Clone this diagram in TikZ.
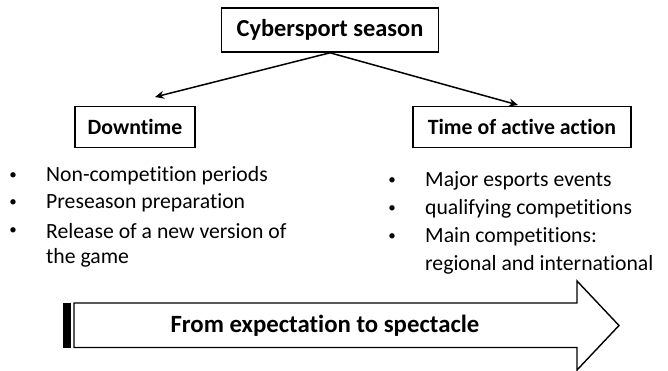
\documentclass[tikz,border=0pt]{standalone}
\usepackage{fontspec}
\setmainfont{Carlito}[Ligatures={NoCommon}]
\usetikzlibrary{arrows.meta}
\begin{document}
\begin{tikzpicture}[x=1pt,y=-1pt,
  titlebox/.style={draw,line width=1.6pt,inner sep=0pt,font=\fontsize{21.8}{26}\selectfont\bfseries},
  item/.style={anchor=west,inner sep=0pt,font=\fontsize{21.7}{26}\selectfont},
  bul/.style={inner sep=0pt,font=\fontsize{15}{18}\selectfont},
  conn/.style={line width=1.5pt,-{Stealth[length=9pt,width=8pt]}}]
\useasboundingbox (0,0) rectangle (668,371);
\node[titlebox,minimum width=217pt,minimum height=44pt,font=\fontsize{24.4}{28}\selectfont\bfseries] (top) at (330,30) {Cybersport season};
\node[titlebox,minimum width=120pt,minimum height=41pt] (down) at (135,127) {Downtime};
\node[titlebox,minimum width=218pt,minimum height=41pt] (act) at (522,127) {Time of active action};
\coordinate (d1) at (155,97);
\coordinate (a1) at (518,105);
\draw[conn] (top.south) -- (d1);
\draw[conn] (top.south) -- (a1);
% left list
\node[bul] (lb1) at (13,176) {•};
\node[bul] (lb2) at (13,203) {•};
\node[bul] (lb3) at (13,231) {•};
\node[item] (l1) at (46,176) {Non-competition periods};
\node[item] (l2) at (46,203) {Preseason preparation};
\node[item] (l3) at (46,231) {Release of a new version of};
\node[item] (l4) at (46,258) {the game};
% right list
\node[bul] (rb1) at (392,181) {•};
\node[bul] (rb2) at (392,209) {•};
\node[bul] (rb3) at (392,237) {•};
\node[item] (r1) at (425,181) {Major esports events};
\node[item] (r2) at (425,209) {qualifying competitions};
\node[item] (r3) at (425,237) {Main competitions:};
\node[item] (r4) at (425,265) {regional and international};
% big arrow
\draw[line width=1.4pt,line join=miter] (74,303) -- (577,303) -- (577,281) -- (619,325.5) -- (577,370) -- (577,347.5) -- (74,347.5) -- cycle;
\draw[line width=1pt,fill=black] (63.5,303) rectangle (70,347.5);
\node[font=\fontsize{24.8}{28}\selectfont\bfseries] (lab) at (325,326) {From expectation to spectacle};
\end{tikzpicture}
\end{document}
